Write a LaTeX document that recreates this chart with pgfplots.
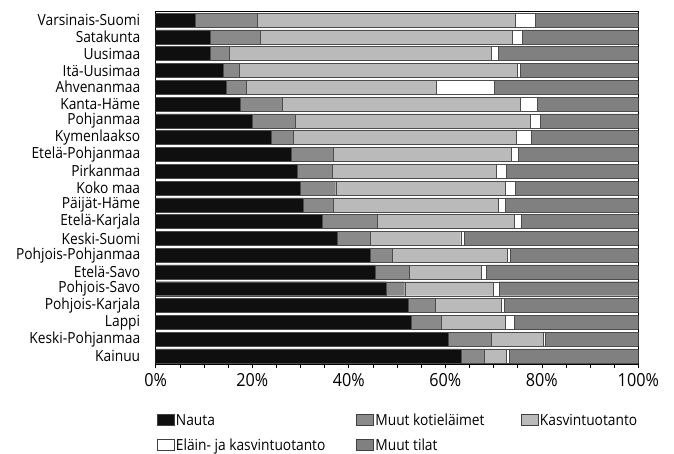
\documentclass[border=0pt]{standalone}
\usepackage{pgfplots}
\usepackage{pgfplotstable}
\pgfplotsset{compat=1.18}
\usepackage{fontspec}
\setmainfont{Open Sans}[FakeStretch=0.9]
\definecolor{cNauta}{gray}{0.06}
\definecolor{cMuut}{gray}{0.54}
\definecolor{cKasvi}{gray}{0.73}
\definecolor{cElain}{gray}{1.0}
\definecolor{cTilat}{gray}{0.50}
\pgfplotstableread{
idx n m k e t
0 8.1 12.9 53.5 4.1 21.4
1 11.3 10.3 52.3 2.1 24.0
2 11.3 4.0 54.3 1.3 29.1
3 14.0 3.3 57.6 0.6 24.5
4 14.6 4.1 39.4 12.1 29.8
5 17.5 8.7 49.4 3.5 20.9
6 20.0 8.9 48.7 2.0 20.4
7 24.0 4.4 46.4 3.0 22.2
8 28.1 8.7 36.8 1.6 24.8
9 29.4 7.1 34.1 2.1 27.3
10 29.9 7.4 35.2 1.9 25.6
11 30.5 6.2 34.2 1.5 27.6
12 34.5 11.5 28.2 1.6 24.2
13 37.7 6.8 18.7 0.7 36.1
14 44.5 4.5 23.9 0.5 26.6
15 45.5 7.1 14.9 0.9 31.6
16 47.7 3.9 18.4 1.1 28.9
17 52.4 5.6 13.5 0.7 27.8
18 53.0 6.2 13.2 1.8 25.8
19 60.6 8.9 10.8 0.4 19.3
20 63.3 4.7 4.7 0.5 26.8
}\data
\begin{document}
\begin{tikzpicture}
\begin{axis}[name=ax,
  scale only axis, width=482.6pt, height=352.6pt,
  xbar stacked, bar width=14pt,
  xmin=0, xmax=100, ymin=-0.5, ymax=20.5, y dir=reverse,
  axis line style={black, line width=0.6pt},
  xtick={0,20,40,60,80,100},
  xticklabels={0\%,20\%,40\%,60\%,80\%,100\%},
  minor x tick num=3,
  xtick pos=bottom, xtick align=outside,
  major tick length=4pt, minor tick length=4pt,
  every tick/.style={black, line width=0.5pt},
  x tick label style={font=\fontsize{18}{20}\selectfont, yshift=-2pt},
  ytick={0,...,20}, 
  yticklabels={Varsinais-Suomi,Satakunta,Uusimaa,Itä-Uusimaa,Ahvenanmaa,Kanta-Häme,Pohjanmaa,Kymenlaakso,Etelä-Pohjanmaa,Pirkanmaa,Koko maa,Päijät-Häme,Etelä-Karjala,Keski-Suomi,Pohjois-Pohjanmaa,Etelä-Savo,Pohjois-Savo,Pohjois-Karjala,Lappi,Keski-Pohjanmaa,Kainuu},
  ytick style={draw=none},
  y tick label style={font=\fontsize{15.3}{16}\selectfont, xshift=-12pt},
  /pgf/number format/assume math mode=true,
  legend columns=3,
  legend cell align=left,
  legend style={draw=none, fill=none, at={(axis description cs:0,0)}, anchor=north west,
    xshift=1pt, yshift=-48pt, inner sep=0pt, row sep=9pt,
    font=\fontsize{15.3}{17}\selectfont,
    nodes={inner sep=1.5pt}},
  legend image code/.code={\draw[#1, draw=black!75, line width=0.5pt] (0pt,-5pt) rectangle (17pt,6pt);},
]
\addplot[fill=cNauta, draw=black!70, line width=0.4pt] table[x=n, y=idx]{\data};
\addplot[fill=cMuut, draw=black!70, line width=0.4pt] table[x=m, y=idx]{\data};
\addplot[fill=cKasvi, draw=black!70, line width=0.4pt] table[x=k, y=idx]{\data};
\addplot[fill=cElain, draw=black!70, line width=0.4pt] table[x=e, y=idx]{\data};
\addplot[fill=cTilat, draw=black!70, line width=0.4pt] table[x=t, y=idx]{\data};
\addlegendentry{\makebox[179pt][l]{Nauta}}
\addlegendentry{\makebox[144pt][l]{Muut kotieläimet}}
\addlegendentry{Kasvintuotanto}
\addlegendentry{\makebox[179pt][l]{Eläin- ja kasvintuotanto}}
\addlegendentry{\makebox[144pt][l]{Muut tilat}}
\end{axis}
\path (ax.south west) ++(-155.7pt,-89.7pt) rectangle ++(674pt,454pt);
\end{tikzpicture}
\end{document}
